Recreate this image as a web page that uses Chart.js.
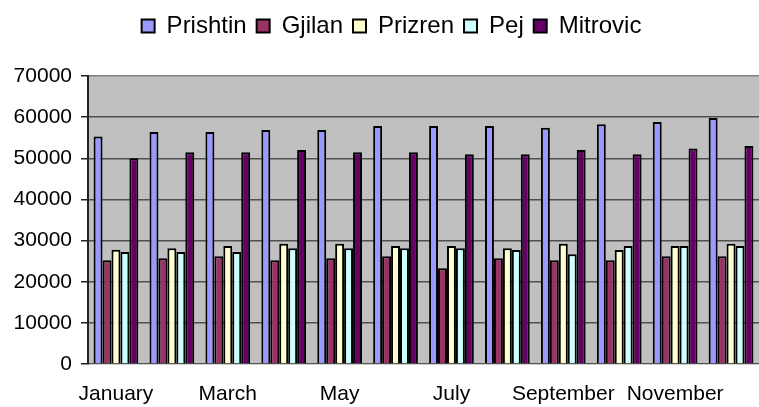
<!DOCTYPE html>
<html>
<head>
<meta charset="utf-8">
<script src="https://cdn.jsdelivr.net/npm/chart.js@4"></script>
<style>
  html, body { margin: 0; padding: 0; background: #fff; }
  #wrap { width: 759px; height: 407px; }
</style>
</head>
<body>
<div id="wrap"><canvas id="chart" width="759" height="407"></canvas></div>
<script>
// Months on the x axis
const months = ['January', 'February', 'March', 'April', 'May', 'June',
    'July', 'August', 'September', 'October', 'November', 'December'];

// Values per city
const prishtin = [55300, 56400, 56400, 56900, 56900, 57850, 57850, 57850, 57400, 58300, 58800, 59800];
const gjilan   = [25200, 25700, 26200, 25200, 25700, 26200, 23300, 25700, 25200, 25200, 26200, 26200];
const prizren  = [27750, 28150, 28700, 29200, 29200, 28700, 28700, 28150, 29200, 27700, 28700, 29200];
const pej      = [27200, 27200, 27200, 28150, 28150, 28150, 28150, 27700, 26700, 28700, 28700, 28700];
const mitrovic = [50000, 51450, 51450, 52000, 51450, 51450, 51000, 51000, 52000, 51000, 52400, 53000];

const yTicks = [0, 10000, 20000, 30000, 40000, 50000, 60000, 70000];

const font = 'Liberation Sans, Arial, sans-serif';

const makeSet = (label, data, color) => ({
    label: label,
    data: data,
    backgroundColor: color,
    borderColor: '#000',
    borderWidth: 2,
    borderSkipped: 'bottom',
    categoryPercentage: 0.8,
    barPercentage: 1.0
});

// gray plot area like the old spreadsheet charts
const plotBackground = {
    id: 'plotBackground',
    beforeDraw: (chart) => {
        const { ctx, chartArea: a } = chart;
        ctx.save();
        ctx.fillStyle = '#c0c0c0';
        ctx.fillRect(a.left, a.top, a.right - a.left, a.bottom - a.top);
        ctx.restore();
    }
};

// fix the legend height so the plot starts where it should,
// then nudge the legend a little right and down
const legendPlace = {
    id: 'legendPlace',
    beforeInit: (chart) => {
        const fit = chart.legend.fit;
        chart.legend.fit = function () {
            fit.bind(chart.legend)();
            this.height = 76;
        };
    },
    afterLayout: (chart) => {
        const lg = chart.legend;
        lg.left += 12;
        lg.right += 12;
        lg.top += 4;
        lg.bottom += 4;
    }
};

new Chart(document.getElementById('chart').getContext('2d'), {
    type: 'bar',
    data: {
        labels: months,
        datasets: [
            makeSet('Prishtin', prishtin, '#9999ff'),
            makeSet('Gjilan', gjilan, '#993366'),
            makeSet('Prizren', prizren, '#ffffcc'),
            makeSet('Pej', pej, '#ccffff'),
            makeSet('Mitrovic', mitrovic, '#660066')
        ]
    },
    options: {
        responsive: false,
        animation: false,
        layout: { padding: 0 },
        plugins: {
            legend: {
                position: 'top',
                labels: {
                    color: '#000',
                    font: { family: font, size: 24 },
                    boxWidth: 13,
                    boxHeight: 13,
                    padding: 10
                }
            },
            tooltip: { enabled: false }
        },
        scales: {
            x: {
                afterFit: (axis) => { axis.height = 43; },
                grid: { display: false, drawTicks: false },
                border: { display: true, color: '#d0d0d0', width: 1 },
                ticks: {
                    color: '#000',
                    font: { family: font, size: 21 },
                    autoSkip: false,
                    maxRotation: 0,
                    padding: 18,
                    callback: function (val, i) { return i % 2 === 0 ? months[i] : ''; }
                }
            },
            y: {
                min: 0,
                max: 70000,
                afterBuildTicks: (axis) => { axis.ticks = yTicks.map(v => ({ value: v })); },
                afterFit: (axis) => { axis.width = 88; },
                grid: {
                    color: (c) => c.tick && c.tick.value === 70000 ? '#808080' : '#505050',
                    lineWidth: 1.5,
                    tickLength: 7,
                    tickColor: '#222'
                },
                border: { display: true, color: '#222', width: 2 },
                ticks: {
                    color: '#000',
                    font: { family: font, size: 21 },
                    padding: 9,
                    callback: (v) => String(v)
                }
            }
        }
    },
    plugins: [plotBackground, legendPlace]
});
</script>
</body>
</html>
